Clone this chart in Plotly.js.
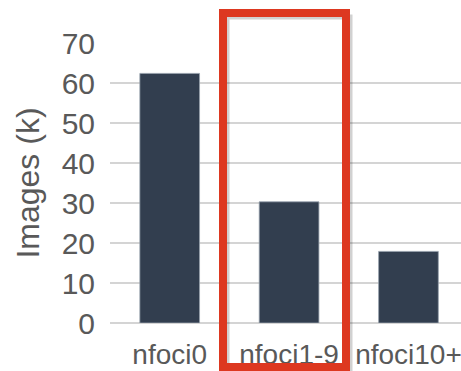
<!DOCTYPE html>
<html>
<head>
<meta charset="utf-8">
<script src="https://cdn.plot.ly/plotly-3.0.1.min.js"></script>
<style>html,body{margin:0;padding:0;background:#fff;}#chart{width:461px;height:371px;}</style>
</head>
<body>
<div id="chart"></div>
<script>
const categories = ["nfoci0", "nfoci1-9", "nfoci10+"];
const images = [62.4, 30.3, 17.9];
const yTickVals = [0, 10, 20, 30, 40, 50, 60, 70];
const yTickText = ["0", "10", "20", "30", "40", "50", "60", "70"];

const trace = {
  type: "bar",
  x: categories,
  y: images,
  width: 0.5,
  marker: { color: "#323e4f", line: { color: "rgba(150,160,172,0.8)", width: 1 } },
  hoverinfo: "skip"
};

const layout = {
  width: 461,
  height: 371,
  margin: { l: 110, r: 0, t: 43, b: 48, pad: 0 },
  paper_bgcolor: "#ffffff",
  plot_bgcolor: "#ffffff",
  showlegend: false,
  font: { family: "Liberation Sans, Arial, sans-serif", color: "#595959" },
  xaxis: {
    type: "category",
    range: [-0.5, 2.44],
    showgrid: false,
    showline: false,
    zeroline: false,
    ticks: "",
    tickfont: { size: 28, color: "#595959" },
    ticklabelstandoff: 12,
    automargin: false
  },
  yaxis: {
    range: [0, 70],
    tickvals: yTickVals,
    ticktext: yTickText,
    showgrid: true,
    gridcolor: "#d4d4d4",
    gridwidth: 2,
    zeroline: true,
    zerolinecolor: "#d4d4d4",
    zerolinewidth: 2,
    showline: false,
    ticks: "",
    tickfont: { size: 30, color: "#595959" },
    ticklabelstandoff: 14,
    automargin: false,
    title: { text: "Images (k)", font: { size: 32, color: "#595959" }, standoff: 12 }
  },
  shapes: [
    {
      type: "rect", xref: "paper", yref: "paper",
      x0: (227 - 110) / 351, x1: (350 - 110) / 351,
      y0: (323 - 371) / 280, y1: (323 - 17) / 280,
      line: { color: "rgba(0,0,0,0.18)", width: 5 }
    },
    {
      type: "rect", xref: "paper", yref: "paper",
      x0: (223 - 110) / 351, x1: (346 - 110) / 351,
      y0: (323 - 367) / 280, y1: (323 - 13) / 280,
      line: { color: "#dd3820", width: 8 }
    }
  ]
};

Plotly.newPlot("chart", [trace], layout, { displayModeBar: false, staticPlot: true });
</script>
</body>
</html>
